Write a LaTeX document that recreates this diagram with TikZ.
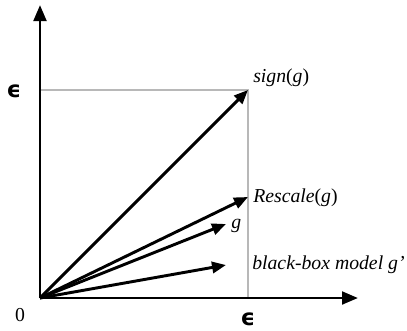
\documentclass[tikz,border=0pt]{standalone}
\usepackage{fontspec}
\setmainfont{Liberation Serif}
\newfontfamily\epsfont{DejaVu Sans}
\usetikzlibrary{arrows.meta}
\tikzset{>={Triangle[length=12pt,width=9.5pt]}}
\tikzset{
  axis/.style={line width=2.2pt,->},
  vec/.style={line width=2.2pt,-{Triangle[length=10.5pt,width=8.5pt]}},
  guide/.style={line width=0.8pt,draw=black!28},
  lab/.style={font=\fontsize{14.8}{17}\selectfont\itshape,inner sep=0pt,anchor=west}
}
\newcommand{\epsmark}{{\epsfont\bfseries\fontsize{17}{19}\selectfont ϵ}}

\begin{document}
\begin{tikzpicture}[x=0.75pt,y=-0.75pt]
  \useasboundingbox (0,0) rectangle (407,330);
  % 坐标点定义
  \coordinate (O) at (40,298);
  \coordinate (Xend) at (358,298);
  \coordinate (Yend) at (40,5);
  \coordinate (S) at (248,90);
  \coordinate (R) at (248,197);
  \coordinate (G) at (226,224);
  \coordinate (B) at (226,265);
  \coordinate (Ey) at (40,90);
  \coordinate (Ex) at (248,298);

  % 辅助线
  \draw[guide] (Ey) -- (S) -- (Ex);

  % 坐标轴
  \draw[axis] (O) -- (Xend);
  \draw[axis] (O) -- (Yend);

  % 向量
  \draw[vec] (O) -- (S);
  \draw[vec] (O) -- (R);
  \draw[vec] (O) -- (G);
  \draw[vec] (O) -- (B);

  % 标签
  \node[lab] (sign) at (253,78) {sign\textup{(}g\textup{)}};
  \node[lab] (resc) at (253,198) {Rescale\textup{(}g\textup{)}};
  \node[lab] (glab) at (231,226) {g};
  \node[lab] (bbox) at (252,265) {black-box model g\char"27};
  \node[inner sep=0pt] (epsy) at (14,91) {\epsmark};
  \node[inner sep=0pt] (epsx) at (248,319) {\epsmark};
  \node[font=\fontsize{14.8}{17}\selectfont,inner sep=0pt] (zero) at (20,315) {0};
\end{tikzpicture}
\end{document}
